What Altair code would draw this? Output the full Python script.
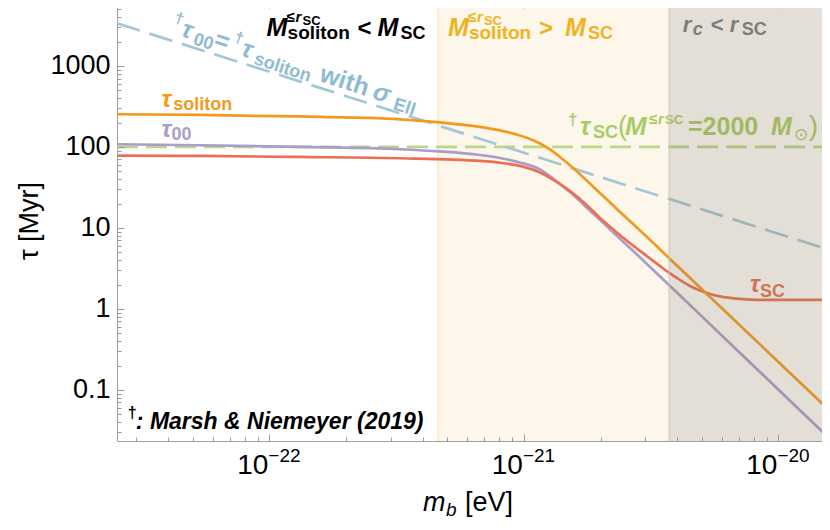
import altair as alt
import pandas as pd

FONT = "Liberation Sans"

# ---------------- data (m_b in eV, tau in Myr) ----------------
m_domain = [2.52e-23, 1.58e-20]
tau_domain = [0.0234, 6340]

m_soliton = [2.52e-23, 5.33e-23, 1.318e-22, 2.48e-22, 3.26e-22, 4.68e-22, 6.71e-22, 8.05e-22,
             9.64e-22, 1.056e-21, 1.156e-21, 1.265e-21, 1.385e-21, 1.517e-21, 1.66e-21, 1.99e-21,
             2.38e-21, 2.86e-21, 3.75e-21, 4.92e-21, 8.46e-21, 1.58e-20]
tau_soliton = [253.3, 248.3, 237.9, 228.0, 218.5, 200.6, 176.6, 159.9, 138.7, 125.5, 110.5, 93.1,
               75.2, 59.4, 46.1, 27.0, 15.85, 9.3, 4.14, 1.84, 0.365, 0.0566]

m_00 = [2.52e-23, 5.33e-23, 1.318e-22, 3.26e-22, 4.68e-22, 6.71e-22, 8.05e-22, 9.64e-22, 1.156e-21,
        1.385e-21, 1.517e-21, 1.66e-21, 1.816e-21, 1.99e-21, 2.177e-21, 2.38e-21, 2.86e-21, 3.75e-21,
        4.92e-21, 8.46e-21, 1.58e-20]
tau_00 = [108.0, 105.0, 100.0, 93.7, 88.0, 79.6, 73.1, 64.4, 52.8, 34.9, 27.8, 21.5, 16.4, 12.6,
          9.66, 7.40, 4.32, 1.918, 0.850, 0.1663, 0.0254]

m_sc = [2.52e-23, 5.33e-23, 1.318e-22, 3.26e-22, 6.71e-22, 8.05e-22, 9.64e-22, 1.156e-21, 1.385e-21,
        1.66e-21, 1.99e-21, 2.38e-21, 2.86e-21, 3.42e-21, 3.75e-21, 4.10e-21, 4.49e-21, 4.92e-21,
        5.38e-21, 5.89e-21, 7.06e-21, 8.46e-21, 1.109e-20, 1.58e-20]
tau_sc = [78.1, 77.4, 75.2, 72.5, 67.2, 63.8, 58.3, 48.4, 34.9, 22.8, 13.3, 8.20, 5.20, 3.40, 2.74,
          2.28, 1.92, 1.69, 1.53, 1.43, 1.33, 1.29, 1.29, 1.29]

m_marsh = [2.52e-23, 1.0e-21, 1.58e-20]
tau_marsh = [3365, 84.8, 5.37]

m_sc2000 = [2.52e-23, 1.58e-20]
tau_sc2000 = [100, 100]

region_start = [4.6e-22, 3.72e-21]
region_end = [3.72e-21, 1.58e-20]

x_major = [1e-22, 1e-21, 1e-20]
x_major_exp = ["\u221222", "\u221221", "\u221220"]
x_minor = ([k * 1e-23 for k in range(3, 10)] + [k * 1e-22 for k in range(2, 10)]
           + [k * 1e-21 for k in range(2, 10)])
y_major = [0.1, 1, 10, 100, 1000]
y_minor = ([k * 0.01 for k in range(3, 10)] + [k * 0.1 for k in range(2, 10)] + [k * 1.0 for k in range(2, 10)]
           + [k * 10.0 for k in range(2, 10)] + [k * 100.0 for k in range(2, 10)]
           + [2000.0, 3000.0, 4000.0, 5000.0, 6000.0])

# label anchors (m, tau)
pos_tau_soliton = (3.77e-23, 312)
pos_tau_00 = (3.77e-23, 133)
pos_tau_sc = (7.73e-21, 1.64)
pos_black = (9.75e-23, 2312)
pos_gold = (5.03e-22, 2345)
pos_gray = (4.21e-21, 2650)
pos_green = (1.49e-21, 140.6)
pos_blue = (4.07e-23, 2592)
pos_ref = (2.78e-23, 0.033)

# colours
C_OR = "#f39a1e"
C_GOLD = "#efb320"
C_PU = "#aa9dc8"
C_RED = "#ea6f55"
C_GRN_L = "#bdd78a"
C_GRN_T = "#a8cc66"
C_BLU_L = "#a2c8d8"
C_BLU_T = "#8ebbd0"
C_GRAY_T = "#7c7c7c"

xs = alt.Scale(type="log", domain=m_domain, nice=False)
ys = alt.Scale(type="log", domain=tau_domain, nice=False)


def X(axis=None):
    return alt.X("m:Q", scale=xs, axis=axis)


def Y(axis=None):
    return alt.Y("t:Q", scale=ys, axis=axis)


def line(m, t, color, dash=None, interp="monotone"):
    kw = dict(color=color, strokeWidth=2.7, interpolate=interp, clip=True)
    if dash:
        kw["strokeDash"] = dash
    return alt.Chart(pd.DataFrame({"m": m, "t": t})).mark_line(**kw).encode(x=X(), y=Y())


def piece(pos, text, size, color, weight="bold", style="normal", dx=0, dy=0, angle=0, font=FONT):
    df = pd.DataFrame({"m": [pos[0]], "t": [pos[1]]})
    return alt.Chart(df).mark_text(
        text=text, fontSize=size, font=font, fontWeight=weight, fontStyle=style, color=color,
        dx=dx, dy=dy, angle=angle, align="left", baseline="alphabetic"
    ).encode(x=X(), y=Y())


def label(pos, pieces, color, angle=0):
    out = []
    for p in pieces:
        txt, size, weight, style, dx, dy = p[:6]
        font = p[6] if len(p) > 6 else FONT
        out.append(piece(pos, txt, size, color, weight, style, dx, dy, angle, font))
    return out


layers = []

# regions (translucent tints)
reg = pd.DataFrame({"m": region_start, "m2": region_end})
layers.append(alt.Chart(reg.iloc[[0]]).mark_rect(color="#eba52d", opacity=0.1).encode(
    x=X(), x2="m2:Q", y=alt.value(0), y2=alt.value(440)))
layers.append(alt.Chart(reg.iloc[[0]]).mark_rule(color="#f6dfa0", strokeWidth=1).encode(
    x=X(), y=alt.value(0), y2=alt.value(440)))

# curves
layers.append(line(m_sc2000, tau_sc2000, C_GRN_L, dash=[21, 8], interp="linear"))
layers.append(line(m_marsh, tau_marsh, C_BLU_L, dash=[24, 10], interp="linear"))
layers.append(line(m_00, tau_00, C_PU))
layers.append(line(m_sc, tau_sc, C_RED))
layers.append(line(m_soliton, tau_soliton, C_OR))

# curve labels
layers += label(pos_tau_soliton, [("τ", 24, "bold", "italic", 0, 0), ("soliton", 18, "bold", "normal", 11.6, 3)], C_OR)
layers += label(pos_tau_00, [("τ", 24, "bold", "italic", 0, 0), ("00", 18, "bold", "normal", 10, 3)], C_PU)
layers += label(pos_tau_sc, [("τ", 24, "bold", "italic", 0, 0), ("SC", 18, "bold", "normal", 10, 5)], C_RED)

layers += label(pos_black, [
    ("M", 25, "bold", "italic", 0, 0), ("≤", 15, "bold", "normal", 20, -14),
    ("r", 15, "bold", "italic", 29, -14), ("SC", 13, "bold", "normal", 36, -11),
    ("soliton", 19, "bold", "normal", 21, 3), ("<", 24, "bold", "normal", 91, 0),
    ("M", 25, "bold", "italic", 111, 0), ("SC", 18, "bold", "normal", 134, 3)], "#000000")

layers += label(pos_gold, [
    ("M", 25, "bold", "italic", 0, 0), ("≤", 15, "bold", "normal", 20, -14),
    ("r", 15, "bold", "italic", 29, -14), ("SC", 13, "bold", "normal", 36, -11),
    ("soliton", 19, "bold", "normal", 21, 3), (">", 24, "bold", "normal", 91, 0),
    ("M", 25, "bold", "italic", 117, 0), ("SC", 18, "bold", "normal", 140, 3)], C_GOLD)

layers += label(pos_green, [
    ("†", 17, "bold", "normal", 0, -10), ("τ", 25, "bold", "italic", 12, 0),
    ("SC", 18, "bold", "normal", 25, 3), ("(", 27, "normal", "normal", 50, 0),
    ("M", 26, "bold", "italic", 57, 0), ("≤", 15, "bold", "normal", 81, -11),
    ("r", 15, "bold", "italic", 90, -11), ("SC", 13, "bold", "normal", 97, -11),
    ("=2000", 25, "bold", "normal", 120, 0), ("M", 25, "bold", "italic", 203, 0),
    ("⊙", 17, "normal", "normal", 226, 5, "DejaVu Sans"), (")", 27, "normal", "normal", 241, 0)], C_GRN_T)

layers += label(pos_blue, [
    ("†", 16, "bold", "normal", 0, -11), ("τ", 25, "bold", "italic", 10.5, 0),
    ("00", 18, "bold", "normal", 24.7, 4), ("=", 25, "bold", "normal", 45, 0),
    ("†", 16, "bold", "normal", 63, -11), ("τ", 25, "bold", "italic", 73.6, 0),
    ("soliton", 18, "bold", "normal", 88.5, 4), ("with", 25, "bold", "normal", 156, 0),
    ("σ", 25, "bold", "italic", 212, 0), ("Ell", 18, "bold", "normal", 235, 4)], C_BLU_T, angle=18)

layers += label(pos_ref, [("†", 16, "bold", "normal", 0, -11),
                          (": Marsh & Niemeyer (2019)", 23, "bold", "italic", 8, 0)], "#000000")

# grey region overlay (on top)
layers.append(alt.Chart(reg.iloc[[1]]).mark_rect(color="#8f7f5b", opacity=0.25).encode(
    x=X(), x2="m2:Q", y=alt.value(0), y2=alt.value(440)))
layers.append(alt.Chart(reg.iloc[[1]]).mark_rule(color="#c9c4b8", strokeWidth=1).encode(
    x=X(), y=alt.value(0), y2=alt.value(440)))
layers += label(pos_gray, [
    ("r", 22, "bold", "italic", 0, 0), ("c", 18, "bold", "italic", 10, 3),
    ("<", 22, "bold", "normal", 28, 0), ("r", 22, "bold", "italic", 47, 0),
    ("SC", 18, "bold", "normal", 59, 3)], C_GRAY_T)

# x tick labels 10^n
xt = pd.DataFrame({"m": x_major, "e": x_major_exp})
layers.append(alt.Chart(xt).mark_text(text="10", fontSize=28, font=FONT, color="black", align="right",
                                      baseline="alphabetic", dx=-1).encode(x=X(), y=alt.value(473)))
layers.append(alt.Chart(xt).mark_text(fontSize=19, font=FONT, color="black", align="left",
                                      baseline="alphabetic", dx=-1).encode(x=X(), y=alt.value(461), text="e:N"))

# axis titles
ttl = pd.DataFrame({"m": [m_domain[0]], "t": [tau_domain[0]]})
layers.append(alt.Chart(ttl).mark_text(text="m", fontSize=27, font=FONT, fontStyle="italic", color="black",
                                       align="left", baseline="alphabetic").encode(x=alt.value(306), y=alt.value(510)))
layers.append(alt.Chart(ttl).mark_text(text="b", fontSize=19, font=FONT, fontStyle="italic", color="black",
                                       align="left", baseline="alphabetic", dx=23, dy=5).encode(x=alt.value(306), y=alt.value(510)))
layers.append(alt.Chart(ttl).mark_text(text="[eV]", fontSize=27, font=FONT, color="black",
                                       align="left", baseline="alphabetic", dx=42).encode(x=alt.value(306), y=alt.value(510)))
layers.append(alt.Chart(ttl).mark_text(text="τ [Myr]", fontSize=27, font=FONT, color="black", angle=270,
                                       align="center", baseline="alphabetic").encode(x=alt.value(-79), y=alt.value(220)))

# frame ticks (inward) via offset axes
common = dict(grid=False, domain=False, zindex=1, tickColor="#9a9a9a", tickWidth=1, title=None)
lab = dict(labelFont=FONT, labelFontSize=27, labelColor="black")


def axis_layer(xaxis, yaxis):
    df = pd.DataFrame({"m": m_domain, "t": tau_domain})
    return alt.Chart(df).mark_point(opacity=0).encode(x=X(xaxis), y=Y(yaxis))


layers.append(axis_layer(
    alt.Axis(orient="bottom", values=x_major, tickSize=7, offset=-7, labels=False, **common),
    alt.Axis(orient="left", values=y_major, tickSize=7, offset=-7, labelPadding=7,
             labelExpr="datum.value < 1 ? format(datum.value, '.1f') : format(datum.value, 'd')", **lab, **common)))
layers.append(axis_layer(
    alt.Axis(orient="bottom", values=x_minor, tickSize=4, offset=-4, labels=False, **common),
    alt.Axis(orient="left", values=y_minor, tickSize=4, offset=-4, labels=False, **common)))
layers.append(axis_layer(
    alt.Axis(orient="top", values=x_major, tickSize=7, offset=-7, labels=False, **common),
    alt.Axis(orient="right", values=y_major, tickSize=7, offset=-7, labels=False, **common)))
layers.append(axis_layer(
    alt.Axis(orient="top", values=x_minor, tickSize=4, offset=-4, labels=False, **common),
    alt.Axis(orient="right", values=y_minor, tickSize=4, offset=-4, labels=False, **common)))

chart = alt.layer(*layers).resolve_axis(x="independent", y="independent").properties(
    width=712, height=440,
    autosize=alt.AutoSizeParams(type="none"),
    padding={"left": 109, "top": -7, "right": -7, "bottom": 81},
    background="white",
).configure_view(stroke="#a0a0a0", strokeWidth=1)

chart.save("out.html", embed_options={"renderer": "svg", "actions": False})
